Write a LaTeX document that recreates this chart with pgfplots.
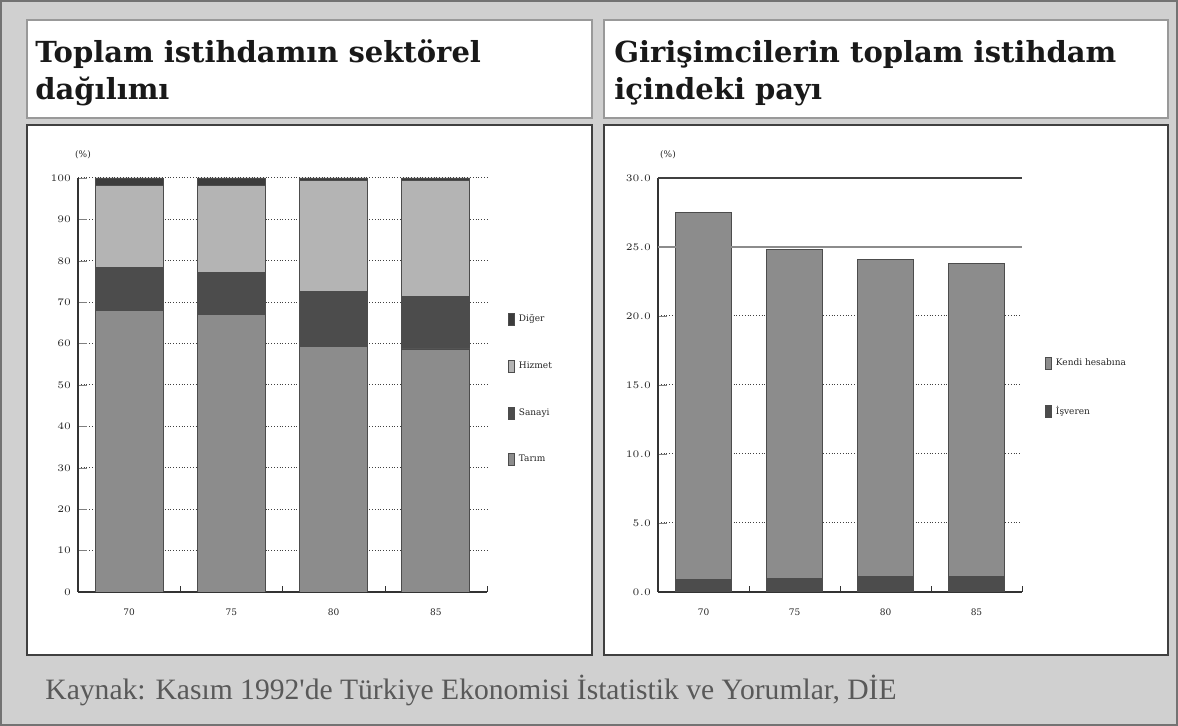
\documentclass[border=0pt]{standalone}
\usepackage{fontspec}
\setmainfont{DejaVu Serif}
\newfontfamily\srcfont{Liberation Serif}
\usepackage{pgfplots}
\pgfplotsset{compat=1.18}
\definecolor{bg}{HTML}{D0D0D0}
\definecolor{tarim}{HTML}{8C8C8C}
\definecolor{sanayi}{HTML}{4C4C4C}
\definecolor{hizmet}{HTML}{B4B4B4}
\definecolor{diger}{HTML}{3C3C3C}
\begin{document}
\begin{tikzpicture}[x=1pt,y=1pt]
\fill[bg] (0,0) rectangle (589,363);
\draw[black!55, line width=1pt] (0.5,0.5) rectangle (588.5,362.5);
% panels
\filldraw[fill=white, draw=black!40, line width=0.8pt] (13.5,304) rectangle (296,353);
\filldraw[fill=white, draw=black!40, line width=0.8pt] (302,304) rectangle (584,353);
\filldraw[fill=white, draw=black!75, line width=1pt] (13.5,35.5) rectangle (296,300.5);
\filldraw[fill=white, draw=black!75, line width=1pt] (302,35.5) rectangle (584,300.5);
% titles
\node[anchor=base west, inner sep=0pt, font=\bfseries\fontsize{14.5}{16}\selectfont, text=black!90] at (17.5,331.5) {Toplam istihdamın sektörel};
\node[anchor=base west, inner sep=0pt, font=\bfseries\fontsize{14.5}{16}\selectfont, text=black!90] at (17.5,313) {dağılımı};
\node[anchor=base west, inner sep=0pt, font=\bfseries\fontsize{14.5}{16}\selectfont, text=black!90] at (307,331.5) {Girişimcilerin toplam istihdam};
\node[anchor=base west, inner sep=0pt, font=\bfseries\fontsize{14.5}{16}\selectfont, text=black!90] at (307,313) {içindeki payı};
% source
\node[anchor=base west, inner sep=0pt, font=\srcfont\fontsize{14.8}{16}\selectfont, text=black!65] at (22.5,13) {Kaynak: Kasım 1992'de Türkiye Ekonomisi İstatistik ve Yorumlar, DİE};
% (%) labels
\node[font=\fontsize{4.5}{5}\selectfont, text=black!85] at (41.5,285.5) {(\%)};
\node[font=\fontsize{4.5}{5}\selectfont, text=black!85] at (334,285.5) {(\%)};

\begin{axis}[
  at={(39pt,67pt)}, anchor=south west,
  width=204.5pt, height=207pt, scale only axis,
  xmin=-0.5, xmax=3.5, ymin=0, ymax=100,
  ybar stacked, bar width=34pt,
  axis lines=left, axis line style={-, black!80, line width=0.8pt},
  xtick={0,1,2,3}, xticklabels={70,75,80,85},
  major x tick style={draw=none},
  minor xtick={-0.5,0.5,1.5,2.5,3.5},
  minor x tick style={black!80},
  ytick={0,10,...,100},
  tick align=inside,
  ymajorgrids, grid style={densely dotted, black!75, line width=0.5pt},
  ticklabel style={font=\fontsize{4.5}{5}\selectfont, text=black!85},
  xticklabel style={yshift=-5pt},
  legend style={at={(1.035,0.69)}, anchor=north west, draw=none, fill=none,
    font=\fontsize{4.5}{5}\selectfont, text=black!85, row sep=14.5pt},
  legend cell align=left,
  reverse legend,
  legend image code/.code={\draw[#1, draw=black!70] (0pt,-3pt) rectangle (3.2pt,3pt);},
  every axis plot/.append style={draw=black!70, line width=0.4pt},
]
\addplot[fill=tarim] coordinates {(0,67.9) (1,67.1) (2,59.4) (3,58.7)};
\addplot[fill=sanayi] coordinates {(0,10.4) (1,10.0) (2,13.1) (3,12.6)};
\addplot[fill=hizmet] coordinates {(0,19.8) (1,21.2) (2,27.0) (3,28.2)};
\addplot[fill=diger] coordinates {(0,1.9) (1,1.7) (2,0.5) (3,0.5)};
\legend{Tarım,Sanayi,Hizmet,Diğer}
\end{axis}

\begin{axis}[
  at={(329pt,67pt)}, anchor=south west,
  width=182pt, height=207pt, scale only axis,
  xmin=-0.5, xmax=3.5, ymin=0, ymax=30,
  ybar stacked, bar width=28pt,
  axis lines=left, axis line style={-, black!80, line width=0.8pt},
  xtick={0,1,2,3}, xticklabels={70,75,80,85},
  major x tick style={draw=none},
  minor xtick={-0.5,0.5,1.5,2.5,3.5},
  minor x tick style={black!80},
  ytick={0,5,...,30},
  yticklabel style={/pgf/number format/.cd, fixed, fixed zerofill, precision=1},
  tick align=inside,
  ymajorgrids, grid style={densely dotted, black!75, line width=0.5pt},
  ticklabel style={font=\fontsize{4.5}{5}\selectfont, text=black!85},
  xticklabel style={yshift=-5pt},
  legend style={at={(1.045,0.585)}, anchor=north west, draw=none, fill=none,
    font=\fontsize{4.5}{5}\selectfont, text=black!85, row sep=15pt},
  legend cell align=left,
  reverse legend,
  legend image code/.code={\draw[#1, draw=black!70] (0pt,-3pt) rectangle (3.2pt,3pt);},
  every axis plot/.append style={draw=black!70, line width=0.4pt},
]
\draw[black!75, line width=0.6pt] (axis cs:-0.5,30) -- (axis cs:3.5,30);
\draw[black!45, line width=0.6pt] (axis cs:-0.5,25) -- (axis cs:3.5,25);
\addplot[fill=sanayi] coordinates {(0,0.9) (1,0.95) (2,1.1) (3,1.1)};
\addplot[fill=tarim] coordinates {(0,26.6) (1,23.85) (2,23.0) (3,22.7)};
\legend{İşveren,Kendi hesabına}
\end{axis}
\end{tikzpicture}
\end{document}
